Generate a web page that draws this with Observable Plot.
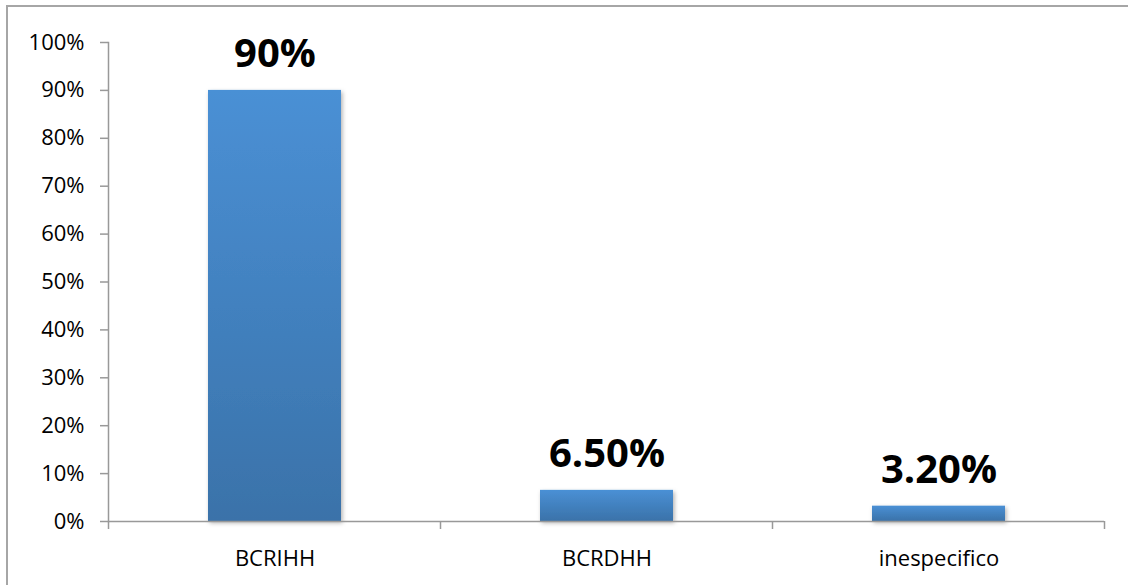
<!DOCTYPE html>
<html><head><meta charset="utf-8">
<script src="https://cdn.jsdelivr.net/npm/d3@7"></script>
<script src="https://cdn.jsdelivr.net/npm/@observablehq/plot@0.6"></script>
<style>
html,body{margin:0;padding:0;background:#fff;}
#wrap{position:relative;width:1128px;height:585px;overflow:hidden;}
#border{position:absolute;left:6px;top:5px;width:1200px;height:700px;border:2px solid #a6a6a6;pointer-events:none;}
#chart{position:absolute;left:0;top:0;}
</style></head><body>
<div id="wrap"><div id="chart"></div><div id="border"></div></div>
<script>
const categories = ["BCRIHH", "BCRDHH", "inespecifico"];
const values = [0.90, 0.065, 0.032];
const valueLabels = ["90%", "6.50%", "3.20%"];
const yTicks = [0, 0.1, 0.2, 0.3, 0.4, 0.5, 0.6, 0.7, 0.8, 0.9, 1.0];
const yTickLabels = ["0%", "10%", "20%", "30%", "40%", "50%", "60%", "70%", "80%", "90%", "100%"];

const data = categories.map((c, i) => ({category: c, value: values[i], label: valueLabels[i]}));

const plot = Plot.plot({
  width: 1128, height: 585,
  marginLeft: 108, marginRight: 24, marginTop: 42, marginBottom: 64,
  style: {fontFamily: "'Open Sans', sans-serif", background: "transparent", overflow: "visible"},
  x: {domain: categories, paddingInner: 0.6, paddingOuter: 0.3, label: null},
  y: {domain: [0, 1], label: null},
  marks: [
    Plot.barY(data, {x: "category", y: "value", fill: "#4a90d5", className: "bars"}),
    Plot.ruleY([0], {stroke: "#999", strokeWidth: 1.5}),
    Plot.frame({anchor: "left", stroke: "#999", strokeWidth: 1.5}),
    Plot.axisY({ticks: yTicks, tickFormat: d => yTickLabels[yTicks.indexOf(d)], tickSize: 8, tickPadding: 16,
      stroke: "#999", strokeWidth: 1.5, fill: "#000", fontSize: 22, label: null}),
    Plot.axisX({tickSize: 0, tickPadding: 29, fill: "#000", fontSize: 22, label: null}),
    Plot.text(data, {x: "category", y: "value", text: "label", dy: -23, lineAnchor: "bottom",
      fontSize: 40, fontWeight: "bold", fill: "#000"})
  ]
});

const svg = d3.select(plot);
const defs = svg.insert("defs", ":first-child");
const grad = defs.append("linearGradient").attr("id", "barGrad")
  .attr("x1", 0).attr("y1", 0).attr("x2", 0).attr("y2", 1);
grad.append("stop").attr("offset", "0%").attr("stop-color", "#4a90d5");
grad.append("stop").attr("offset", "100%").attr("stop-color", "#3a72a9");
const flt = defs.append("filter").attr("id", "barShadow").attr("x", "-10%").attr("y", "-10%").attr("width", "130%").attr("height", "130%");
flt.append("feDropShadow").attr("dx", 1.5).attr("dy", 2).attr("stdDeviation", 2).attr("flood-color", "#000").attr("flood-opacity", 0.3);
svg.selectAll("g.bars").attr("fill", "url(#barGrad)").attr("filter", "url(#barShadow)");

// category boundary ticks on the x axis, from the plot's own scales
const xs = plot.scale("x");
const ys = plot.scale("y");
const y0 = ys.apply(0);
const gap = (xs.step - xs.bandwidth) / 2;
const bounds = categories.map(c => xs.apply(c) - gap);
bounds.push(xs.apply(categories[categories.length - 1]) + xs.bandwidth + gap);
const tg = svg.append("g").attr("stroke", "#999").attr("stroke-width", 1.5);
bounds.forEach(b => tg.append("line").attr("x1", b).attr("x2", b).attr("y1", y0).attr("y2", y0 + 8));

document.getElementById("chart").appendChild(plot);
</script>
</body></html>
